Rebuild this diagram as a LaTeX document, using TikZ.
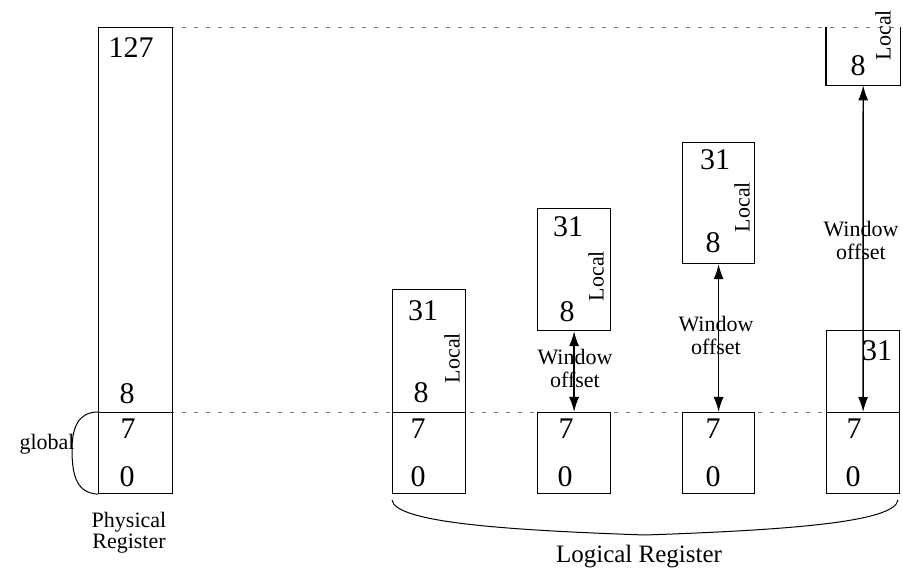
\documentclass[tikz,border=0pt]{standalone}
\usepackage{fontspec}
\setmainfont{Liberation Serif}
\usetikzlibrary{arrows.meta}
\begin{document}
\begin{tikzpicture}[x=1pt,y=-1pt,
  cell/.style={draw, line width=1.2pt, inner sep=0pt, anchor=north west},
  num/.style={font=\fontsize{30}{30}\selectfont, inner sep=0pt},
  lbl/.style={font=\fontsize{22}{23}\selectfont, inner sep=0pt, align=center},
  vlbl/.style={lbl, rotate=90},
  guide/.style={line width=0.8pt, black!55, dash pattern=on 4pt off 8pt},
  offs/.style={line width=1.4pt, {Latex[length=15pt,width=10pt]}-{Latex[length=15pt,width=10pt]}},
  curl/.style={line width=1pt},
]
\useasboundingbox (0,0) rectangle (903,569);

% boundary guides across the whole figure
\coordinate (topend) at (900,27);
\draw[guide] (98,27) -- (topend);
\draw[guide] (98,412) -- (899,412);

% physical register file
\node[cell, minimum width=74pt, minimum height=385pt] (phys) at (98,27) {};
\node[cell, minimum width=74pt, minimum height=81pt] (physg) at (98,412) {};
\node[num] (p127) at (131,48) {127};
\node[num] (p8) at (127,394) {8};
\node[num] (p7) at (128,429) {7};
\node[num] (p0) at (127,477) {0};
\draw[curl] (physg.north west) .. controls (78,412) and (72,428) .. (72,450)
            .. controls (72,478) and (78,493) .. (physg.south west);
\node[lbl] (glob) at (47,444) {global};
\node[lbl, font=\fontsize{22}{21}\selectfont] (physlbl) at (129,533) {Physical\\Register};

% logical window 1
\node[cell, minimum width=73pt, minimum height=123pt] (loc1) at (392,289) {};
\node[cell, minimum width=73pt, minimum height=81pt] (glo1) at (392,412) {};
\node[num] (a31) at (423,311) {31};
\node[num] (a8) at (421,393) {8};
\node[vlbl] (aloc) at (452,358) {Local};
\node[num] (a7) at (418,429) {7};
\node[num] (a0) at (418,477) {0};

% logical window 2
\node[cell, minimum width=73pt, minimum height=122pt] (loc2) at (537,208) {};
\node[cell, minimum width=73pt, minimum height=81pt] (glo2) at (537,412) {};
\node[num] (b31) at (568,227) {31};
\node[num] (b8) at (567,312) {8};
\node[vlbl] (bloc) at (596,276) {Local};
\node[num] (b7) at (566,429) {7};
\node[num] (b0) at (565,477) {0};
\draw[offs] (loc2.south) -- (glo2.north);
\node[lbl] (boff) at (575,368) {Window\\offset};

% logical window 3
\node[cell, minimum width=72pt, minimum height=121pt] (loc3) at (682,142) {};
\node[cell, minimum width=72pt, minimum height=81pt] (glo3) at (682,412) {};
\node[num] (c31) at (715,160) {31};
\node[num] (c8) at (713,243) {8};
\node[vlbl] (cloc) at (742,207) {Local};
\node[num] (c7) at (713,429) {7};
\node[num] (c0) at (713,477) {0};
\draw[offs] (loc3.south) -- (glo3.north);
\node[lbl] (coff) at (716,335) {Window\\offset};

% logical window 4 (wraps past the top of the file)
\node[inner sep=0pt, anchor=north west, minimum width=74pt, minimum height=58pt] (top4) at (826,27) {};
\draw[line width=1.2pt] (top4.north west) |- (top4.south east) -- (top4.north east);
\node[cell, minimum width=73pt, minimum height=82pt] (mid4) at (826,330) {};
\node[cell, minimum width=73pt, minimum height=81pt] (glo4) at (826,412) {};
\node[num] (d8) at (858,66) {8};
\node[vlbl] (dloc) at (883,35) {Local};
\node[num] (d31) at (877,351) {31};
\node[num] (d7) at (854,429) {7};
\node[num] (d0) at (853,477) {0};
\draw[offs] (top4.south) -- (glo4.north);
\node[lbl] (doff) at (861,240) {Window\\offset};

% grouping of the logical views
\coordinate (lbl) at (392,500);
\coordinate (lbm) at (645,535);
\coordinate (lbr) at (898,500);
\draw[curl] (lbl) .. controls (395,522) and (500,530) .. (lbm)
            .. controls (790,530) and (895,522) .. (lbr);
\node[lbl, font=\fontsize{25}{26}\selectfont] (loglbl) at (639,557) {Logical Register};
\end{tikzpicture}
\end{document}
